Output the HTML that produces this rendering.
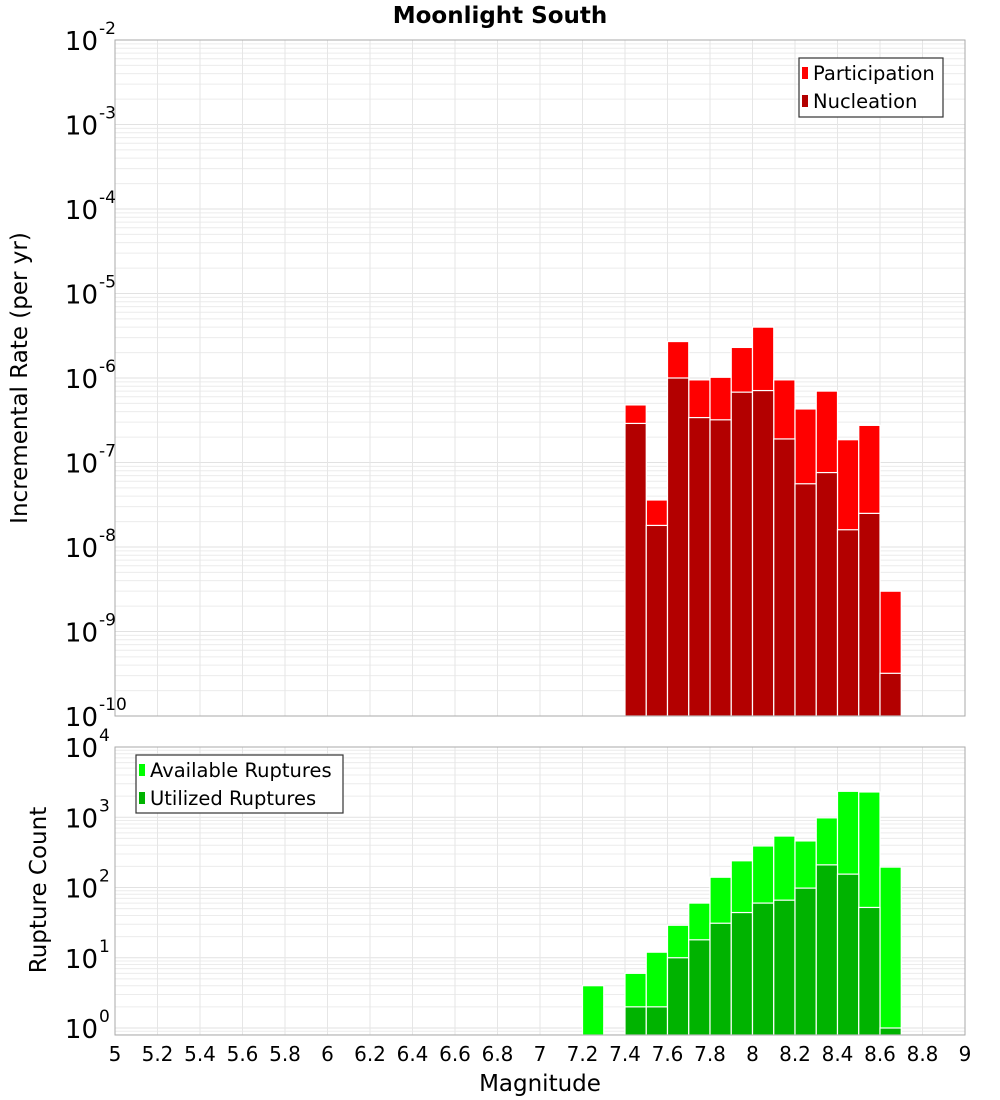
<!DOCTYPE html>
<html><head><meta charset="utf-8"><style>
html,body{margin:0;padding:0;background:#fff;}
svg{display:block;font-family:"DejaVu Sans","Liberation Sans",sans-serif;}
</style></head><body>
<svg id="chart" width="1000" height="1100" xmlns="http://www.w3.org/2000/svg">
<text x="500" y="23" text-anchor="middle" font-size="23" font-weight="bold">Moonlight South</text>
<g id="top"></g>
<g id="bot"></g>
<text transform="translate(27,378) rotate(-90)" text-anchor="middle" font-size="23">Incremental Rate (per yr)</text>
<text transform="translate(46,890) rotate(-90)" text-anchor="middle" font-size="23">Rupture Count</text>
<text x="540" y="1091" text-anchor="middle" font-size="23">Magnitude</text>
</svg>
<script>
const mags = [7.4,7.5,7.6,7.7,7.8,7.9,8.0,8.1,8.2,8.3,8.4,8.5,8.6];
const participation = [4.8e-7,3.6e-8,2.7e-6,9.5e-7,1.02e-6,2.3e-6,4.0e-6,9.5e-7,4.3e-7,7.0e-7,1.86e-7,2.75e-7,3.0e-9];
const nucleation = [2.9e-7,1.8e-8,1.0e-6,3.4e-7,3.2e-7,6.8e-7,7.1e-7,1.9e-7,5.6e-8,7.6e-8,1.6e-8,2.5e-8,3.2e-10];
const countMags = [7.2,7.4,7.5,7.6,7.7,7.8,7.9,8.0,8.1,8.2,8.3,8.4,8.5,8.6];
const available = [4,6,12,29,60,140,240,390,540,460,980,2340,2290,195];
const utilized = [0,2,2,10,18,31,44,60,66,98,210,155,52,1];
const xTicks = [5,5.2,5.4,5.6,5.8,6,6.2,6.4,6.6,6.8,7,7.2,7.4,7.6,7.8,8,8.2,8.4,8.6,8.8,9];

const NS="http://www.w3.org/2000/svg";
function mk(parent,tag,attrs){const e=document.createElementNS(NS,tag);for(const k in attrs)e.setAttribute(k,attrs[k]);parent.appendChild(e);return e;}
const X0=115,X1=965;
const xs=m=>X0+(m-5)/4*(X1-X0);

function panel(g,top,bottom,minExp,maxExp,lowVal){
  const ys=v=>top+(maxExp-Math.log10(v))/(maxExp-minExp)*(bottom-top);
  mk(g,'rect',{x:X0,y:top,width:X1-X0,height:bottom-top,fill:'#fff'});
  for(let e=Math.floor(Math.log10(lowVal));e<maxExp;e++){
    for(let k=1;k<10;k++){const v=k*Math.pow(10,e);if(v<lowVal*0.999||v>Math.pow(10,maxExp))continue;
      const y=ys(v);if(y>bottom||y<top)continue;
      const l=mk(g,'line',{x1:X0,x2:X1,y1:y,y2:y,stroke:k==1?'#e2e2e2':'#ececec','stroke-width':1});
      }
  }
  xTicks.forEach(t=>{const x=xs(t);const l=mk(g,'line',{x1:x,x2:x,y1:top,y2:bottom,stroke:'#e6e6e6','stroke-width':1});
    });
  return ys;
}
function bars(g,ms,vals,ys,bottom,fill,name){
  ms.forEach((m,i)=>{if(!(vals[i]>0))return;const x=xs(m),w=xs(m+0.1)-x;const y=Math.max(ys(vals[i]),0);
    const r=mk(g,'rect',{x:x,y:y,width:w,height:bottom-y,fill:fill,stroke:'#fff','stroke-width':1.2});
    });
}
function yLabels(g,ys,minExp,maxExp,x,name){
  for(let e=minExp;e<=maxExp;e++){const y=ys(Math.pow(10,e));
    const t=mk(g,'text',{x:x,y:y+10,'font-size':26,'text-anchor':'end'});t.textContent='10';
    
    const s=mk(g,'text',{x:x+1,y:y-6,'font-size':17});s.textContent=String(e);
    }
}
function legend(g,x,y,w,h,items){
  const box=mk(g,'rect',{x:x,y:y,width:w,height:h,fill:'#fff',stroke:'#333','stroke-width':1.2});
  
  items.forEach((it,i)=>{const cy=y+15+i*28;
    const s=mk(g,'rect',{x:x+3,y:cy-6,width:6,height:12,fill:it[1]});
    
    const t=mk(g,'text',{x:x+14,y:cy+7,'font-size':19.5});t.textContent=it[0];
    });
}
const gt=document.getElementById('top');
const T0=40,T1=716;
const ysT=panel(gt,T0,T1,-10,-2,1e-10);
bars(gt,mags,participation,ysT,T1,'#ff0000','participation-bar');
bars(gt,mags,nucleation,ysT,T1,'#b30000','nucleation-bar');
mk(gt,'rect',{x:X0,y:T0,width:X1-X0,height:T1-T0,fill:'none',stroke:'#aaa','stroke-width':1});
yLabels(gt,ysT,-10,-2,98,'rate');
legend(gt,799,58,144,59,[['Participation','#ff0000'],['Nucleation','#b30000']]);
const gb=document.getElementById('bot');
const B0=747,B1=1035;
const ysB=v=>B0+(4-Math.log10(v))/4*(1028-B0);
(function(){
  for(let e=-1;e<4;e++)for(let k=1;k<10;k++){const v=k*Math.pow(10,e);const y=ysB(v);if(y>B1||y<B0)continue;
    const l=mk(gb,'line',{x1:X0,x2:X1,y1:y,y2:y,stroke:k==1?'#e2e2e2':'#ececec','stroke-width':1});
    }
  xTicks.forEach(t=>{const x=xs(t);const l=mk(gb,'line',{x1:x,x2:x,y1:B0,y2:B1,stroke:'#e6e6e6','stroke-width':1});
    });
})();
bars(gb,countMags,available,ysB,B1,'#00ff00','available-bar');
bars(gb,countMags,utilized,ysB,B1,'#00b300','utilized-bar');
mk(gb,'rect',{x:X0,y:B0,width:X1-X0,height:B1-B0,fill:'none',stroke:'#aaa','stroke-width':1});
yLabels(gb,ysB,0,4,98,'count');
legend(gb,136,755,207,58,[['Available Ruptures','#00ff00'],['Utilized Ruptures','#00b300']]);
xTicks.forEach(t=>{const tx=mk(gb,'text',{x:xs(t),y:1061,'font-size':20,'text-anchor':'middle'});
  tx.textContent=String(Math.round(t*10)/10);
  });
</script>
</body></html>
